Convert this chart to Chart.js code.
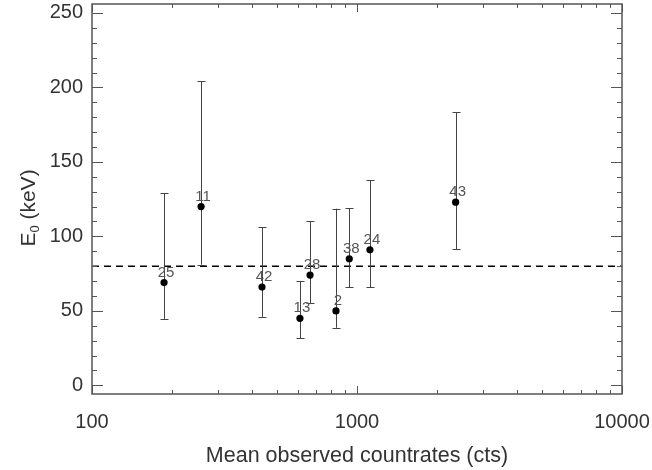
<!DOCTYPE html>
<html>
<head>
<meta charset="utf-8">
<script src="https://cdn.jsdelivr.net/npm/chart.js@4/dist/chart.umd.min.js"></script>
<style>
  html, body { margin: 0; padding: 0; background: #fff; }
  #box { width: 652px; height: 470px; }
</style>
</head>
<body>
<div id="box"><canvas id="grafico"></canvas></div>
<script>
// dados
const ids      = ['25', '11', '42', '13', '28', '2', '38', '24', '43'];
const contagem = [187, 258, 438, 609, 665, 833, 935, 1119, 2356];
const energia  = [69, 120, 66, 45, 74, 50, 85, 91, 123];
const errBaixo = [44.6, 81, 46, 31.7, 55, 38.6, 66, 65.7, 91.4];
const errAlto  = [129, 204, 106.3, 70.1, 110.3, 118.6, 119, 137.6, 183.2];
const nivelRef = 80;
const ticksX = [100, 1000, 10000];
const ticksY = [0, 50, 100, 150, 200, 250];

const FONTE = "'Liberation Sans', Arial, Helvetica, sans-serif";
const COR_EIXO = '#555';

const pontos = contagem.map((c, i) => ({ x: c, y: energia[i] }));

// barras de erro, rótulos, moldura e ticks para dentro (estilo IDL)
const pluginExtras = {
    id: 'extras',
    afterDatasetsDraw(chart) {
        const { ctx, chartArea: a, scales: { x, y } } = chart;
        ctx.save();

        // barras de erro
        ctx.strokeStyle = '#444';
        ctx.lineWidth = 1;
        contagem.forEach((c, i) => {
            const px = Math.round(x.getPixelForValue(c)) + 0.5;
            const y1 = y.getPixelForValue(errBaixo[i]);
            const y2 = y.getPixelForValue(errAlto[i]);
            ctx.beginPath();
            ctx.moveTo(px, y1); ctx.lineTo(px, y2);
            ctx.moveTo(px - 4, Math.round(y1) + 0.5); ctx.lineTo(px + 4, Math.round(y1) + 0.5);
            ctx.moveTo(px - 4, Math.round(y2) + 0.5); ctx.lineTo(px + 4, Math.round(y2) + 0.5);
            ctx.stroke();
        });

        // pontos por cima das barras
        ctx.fillStyle = '#000';
        contagem.forEach((c, i) => {
            ctx.beginPath();
            ctx.arc(x.getPixelForValue(c), y.getPixelForValue(energia[i]), 3.6, 0, Math.PI * 2);
            ctx.fill();
        });

        // rótulos dos pontos
        ctx.fillStyle = '#555';
        ctx.font = '15px ' + FONTE;
        ctx.textAlign = 'center';
        ctx.textBaseline = 'alphabetic';
        contagem.forEach((c, i) => {
            ctx.fillText(ids[i], x.getPixelForValue(c) + 2, y.getPixelForValue(energia[i]) - 6);
        });

        // moldura
        ctx.strokeStyle = COR_EIXO;
        ctx.lineWidth = 1.5;
        ctx.strokeRect(a.left, a.top, a.right - a.left, a.bottom - a.top);

        // ticks
        ctx.lineWidth = 1;
        ctx.beginPath();
        for (let v = 0; v <= 250; v += 10) {
            const py = Math.round(y.getPixelForValue(v)) + 0.5;
            const len = v % 50 === 0 ? 11 : 5;
            ctx.moveTo(a.left, py); ctx.lineTo(a.left + len, py);
            ctx.moveTo(a.right, py); ctx.lineTo(a.right - len, py);
        }
        for (let d = 100; d <= 10000; d *= 10) {
            for (let m = 1; m <= 9; m++) {
                const v = d * m;
                if (v > 10000) break;
                const px = Math.round(x.getPixelForValue(v)) + 0.5;
                const len = m === 1 ? 8 : 4;
                ctx.moveTo(px, a.bottom); ctx.lineTo(px, a.bottom - len);
                ctx.moveTo(px, a.top); ctx.lineTo(px, a.top + len);
            }
        }
        ctx.stroke();

        // títulos dos eixos
        ctx.fillStyle = '#333';
        ctx.font = '21.5px ' + FONTE;
        ctx.textAlign = 'center';
        ctx.textBaseline = 'middle';
        ctx.fillText('Mean observed countrates (cts)', (a.left + a.right) / 2, 456);

        ctx.translate(28, 208);
        ctx.rotate(-Math.PI / 2);
        const p1 = 'E', p2 = '0', p3 = ' (keV)';
        ctx.font = '21px ' + FONTE;
        const w1 = ctx.measureText(p1).width;
        const w3 = ctx.measureText(p3).width;
        ctx.font = '13px ' + FONTE;
        const w2 = ctx.measureText(p2).width;
        let xi = -(w1 + w2 + w3) / 2;
        ctx.textAlign = 'left';
        ctx.textBaseline = 'alphabetic';
        ctx.font = '21px ' + FONTE;
        ctx.fillText(p1, xi, 7); xi += w1;
        ctx.font = '13px ' + FONTE;
        ctx.fillText(p2, xi, 11); xi += w2;
        ctx.font = '21px ' + FONTE;
        ctx.fillText(p3, xi, 7);

        ctx.restore();
    }
};

new Chart(document.getElementById('grafico'), {
    type: 'scatter',
    data: {
        datasets: [
            {
                data: pontos,
                pointRadius: 0,
                showLine: false
            },
            {
                type: 'line',
                data: [{ x: 100, y: nivelRef }, { x: 10000, y: nivelRef }],
                borderColor: '#000',
                borderWidth: 1.5,
                borderDash: [7, 5],
                pointRadius: 0,
                fill: false
            }
        ]
    },
    options: {
        responsive: true,
        maintainAspectRatio: false,
        animation: false,
        layout: { autoPadding: false, padding: { left: 0, right: 30, top: 4, bottom: 0 } },
        plugins: { legend: { display: false }, tooltip: { enabled: false } },
        scales: {
            x: {
                type: 'logarithmic',
                min: 100,
                max: 10000,
                afterFit: s => { s.height = 76; s.paddingLeft = 0; s.paddingRight = 0; },
                afterBuildTicks: s => { s.ticks = ticksX.map(v => ({ value: v })); },
                grid: { display: false, drawTicks: false },
                border: { display: false },
                ticks: {
                    padding: 16,
                    maxRotation: 0,
                    autoSkip: false,
                    color: '#333',
                    font: { family: FONTE, size: 20 },
                    callback: v => String(v)
                }
            },
            y: {
                type: 'linear',
                min: -5.8,
                max: 256,
                afterFit: s => { s.width = 92; s.paddingTop = 0; s.paddingBottom = 0; },
                afterBuildTicks: s => { s.ticks = ticksY.map(v => ({ value: v })); },
                grid: { display: false, drawTicks: false },
                border: { display: false },
                ticks: {
                    padding: 9,
                    color: '#333',
                    font: { family: FONTE, size: 20 },
                    callback: v => String(v)
                }
            }
        }
    },
    plugins: [pluginExtras]
});
</script>
</body>
</html>
